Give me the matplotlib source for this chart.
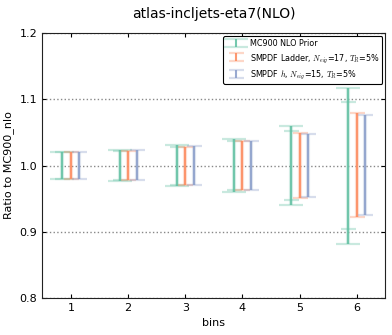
import matplotlib
matplotlib.use("Agg")
import matplotlib.pyplot as plt
import numpy as np

plt.rcParams['mathtext.fontset'] = 'cm'

bins = [1, 2, 3, 4, 5, 6]
labels = ["MC900 NLO Prior",
          r"SMPDF Ladder, $N_{eig}$=17, $T_R$=5%",
          r"SMPDF $h$, $N_{eig}$=15, $T_R$=5%"]
colors = ["#66c2a5", "#fc8d62", "#8da0cb"]

# outer (full) ranges
mc_hi_outer = [1.0206, 1.0228, 1.0303, 1.0402, 1.0589, 1.1170]
mc_lo_outer = [0.9790, 0.9769, 0.9689, 0.9595, 0.9403, 0.8815]
# inner ranges
mc_hi_inner = [1.0200, 1.0217, 1.0282, 1.0368, 1.0518, 1.0966]
mc_lo_inner = [0.9795, 0.9785, 0.9705, 0.9634, 0.9479, 0.9037]

lad_hi = [1.0206, 1.0217, 1.0282, 1.0368, 1.0488, 1.0785]
lad_lo = [0.9792, 0.9780, 0.9705, 0.9625, 0.9513, 0.9220]
h_hi = [1.0206, 1.0228, 1.0292, 1.0368, 1.0478, 1.0755]
h_lo = [0.9792, 0.9775, 0.9705, 0.9625, 0.9519, 0.9246]

series = [
    (mc_hi_outer, mc_lo_outer, mc_hi_inner, mc_lo_inner),
    (lad_hi, lad_lo, lad_hi, lad_lo),
    (h_hi, h_lo, h_hi, h_lo),
]
offsets = [-0.15, 0.0, 0.15]

fig = plt.figure(figsize=(3.92, 3.35), dpi=100)
ax = fig.add_axes([0.108, 0.1104, 0.875, 0.7911])

handles = []
for i, (hi_o, lo_o, hi_i, lo_i) in enumerate(series):
    x = np.array(bins) + offsets[i]
    hi_o, lo_o, hi_i, lo_i = map(np.array, (hi_o, lo_o, hi_i, lo_i))
    c = colors[i]
    mid_o = (hi_o + lo_o) / 2
    err_o = (hi_o - lo_o) / 2
    mid_i = (hi_i + lo_i) / 2
    err_i = (hi_i - lo_i) / 2
    # pale halo line
    ax.errorbar(x, mid_o, yerr=err_o, fmt='none', ecolor=c, elinewidth=3.0,
                alpha=0.25, capsize=0, zorder=2)
    # inner caps
    if i == 0:
        ax.errorbar(x, mid_i, yerr=err_i, fmt='none', ecolor=c, elinewidth=0,
                    capsize=5.4, capthick=1.6, alpha=0.35, zorder=2)
    # main line with outer caps
    h = ax.errorbar(x, mid_o, yerr=err_o, fmt='none', ecolor=c, elinewidth=1.5,
                    capsize=8.3 if i == 0 else 5.4, capthick=1.6, alpha=0.9,
                    zorder=3, label=labels[i])
    for cap in h[1]:
        cap.set_alpha(0.35)
    handles.append(h)

ax.set_xlim(0.5, 6.5)
ax.set_ylim(0.8, 1.2)
ax.set_xticks(bins)
ax.set_yticks([0.8, 0.9, 1.0, 1.1, 1.2])
ax.yaxis.grid(True, linestyle=':', color='#888888', linewidth=1.0)
ax.tick_params(direction='in', top=True, right=True, labelsize=8, length=3)
for s in ax.spines.values():
    s.set_color('#222222')
ax.set_xlabel("bins", fontsize=8)
ax.set_ylabel("Ratio to MC900_nlo", fontsize=8)
ax.set_title("atlas-incljets-eta7(NLO)", fontsize=10, pad=11)

leg = ax.legend(handles=handles, labels=labels, loc='upper right', fontsize=5.8,
                frameon=True, fancybox=True, edgecolor='black', framealpha=1,
                borderaxespad=0.4, handlelength=2.4, labelspacing=0.45,
                handletextpad=0.5, borderpad=0.35)
leg.get_frame().set_linewidth(0.8)

fig.savefig("out.png", dpi=100)
